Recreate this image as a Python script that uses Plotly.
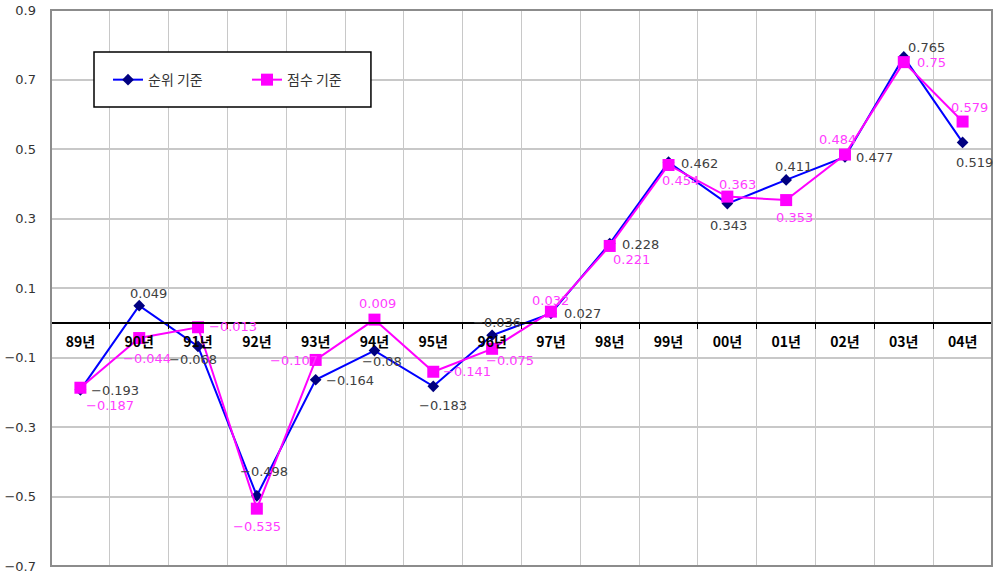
import plotly.graph_objects as go

# ---------------- data ----------------
categories = ["89년", "90년", "91년", "92년", "93년", "94년", "95년", "96년",
              "97년", "98년", "99년", "00년", "01년", "02년", "03년", "04년"]
rank_based = [-0.193, 0.049, -0.068, -0.498, -0.164, -0.08, -0.183, -0.036,
              0.027, 0.228, 0.462, 0.343, 0.411, 0.477, 0.765, 0.519]
score_based = [-0.187, -0.044, -0.013, -0.535, -0.107, 0.009, -0.141, -0.075,
               0.032, 0.221, 0.454, 0.363, 0.353, 0.484, 0.75, 0.579]
series_names = ["순위 기준", "점수 기준"]
y_min, y_max, y_step = -0.7, 0.9, 0.2

# ---------------- label placement (pixel offsets: dx right, dy down) ----------------
rank_dx = [35, 9, -5, 7, 34, 8, 10, 5, 32, 31, 31, 1, 7, 30, 23, 12]
rank_dy = [1, -12, 13, -24, 1, 11, 19, -13, 0, 1, 1, 22, -13, 1, -9, 20]
score_dx = [30, 8, 35, 0, -22, 3, 34, 18, 0, 22, 12, 10, 8, -7, 28, 7]
score_dy = [18, 20, -1, 18, 1, -16, 0, 12, -11, 14, 16, -12, 17, -15, 0, -14]

LABEL_FONT = "DejaVu Sans, Noto Sans CJK KR, sans-serif"
KR_FONT = "Noto Sans CJK KR, DejaVu Sans, sans-serif"


def fmt(v):
    return f"{v:g}".replace("-", "\u2212")


fig = go.Figure()
fig.add_trace(go.Scatter(
    x=categories, y=rank_based, name=series_names[0], mode="lines+markers",
    line=dict(color="#0000FF", width=2),
    marker=dict(symbol="diamond", size=9, color="#000080",
                line=dict(width=0)),
))
fig.add_trace(go.Scatter(
    x=categories, y=score_based, name=series_names[1], mode="lines+markers",
    line=dict(color="#FF00FF", width=2),
    marker=dict(symbol="square", size=12, color="#FF00FF",
                line=dict(width=0)),
))

annotations = []
for c, v, dx, dy in zip(categories, rank_based, rank_dx, rank_dy):
    annotations.append(dict(x=c, y=v, xref="x", yref="y", text=fmt(v),
                            showarrow=False, xshift=dx, yshift=-dy,
                            font=dict(family=LABEL_FONT, size=13, color="#404040")))
for c, v, dx, dy in zip(categories, score_based, score_dx, score_dy):
    annotations.append(dict(x=c, y=v, xref="x", yref="y", text=fmt(v),
                            showarrow=False, xshift=dx, yshift=-dy,
                            font=dict(family=LABEL_FONT, size=13, color="#FF3CFF")))

shapes = [
    # plot frame
    dict(type="rect", xref="x domain", yref="y domain", x0=0, x1=1, y0=0, y1=1,
         line=dict(color="#8C8C8C", width=2), fillcolor="rgba(0,0,0,0)", layer="above"),
    # legend box
    dict(type="rect", xref="paper", yref="paper", x0=0.0457, x1=0.340,
         y0=0.8255, y1=0.9245, line=dict(color="#000000", width=1.5),
         fillcolor="white", layer="above"),
]

zero_pos = (0 - y_min) / (y_max - y_min)

fig.update_layout(
    width=1000, height=576,
    margin=dict(l=51, r=8, t=10, b=10),
    paper_bgcolor="white", plot_bgcolor="white",
    showlegend=True,
    legend=dict(orientation="h", x=0.0606, y=0.874, xanchor="left", yanchor="middle",
                bgcolor="rgba(0,0,0,0)", borderwidth=0,
                entrywidth=94, entrywidthmode="pixels",
                font=dict(family=KR_FONT, size=14, color="#333333")),
    xaxis=dict(type="category", categoryorder="array", categoryarray=categories,
               range=[-0.5, len(categories) - 0.5], automargin=False,
               tickson="boundaries", showgrid=True, gridcolor="#C8C8C8", gridwidth=1,
               showline=True, linecolor="black", linewidth=1.5,
               ticks="outside", ticklen=5, tickcolor="black", tickwidth=1,
               anchor="free", position=zero_pos, zeroline=False,
               ticklabelstandoff=7,
               tickfont=dict(family=KR_FONT, size=14, color="black", weight="bold")),
    yaxis=dict(range=[y_min, y_max], tick0=y_min, dtick=y_step, tickformat=".1f",
               automargin=False,
               showgrid=True, gridcolor="#C8C8C8", gridwidth=1.5, zeroline=False,
               showline=False, ticks="", ticklabelstandoff=14,
               tickfont=dict(family=LABEL_FONT, size=13, color="#333333")),
    annotations=annotations,
    shapes=shapes,
)

fig.write_html("out.html")
